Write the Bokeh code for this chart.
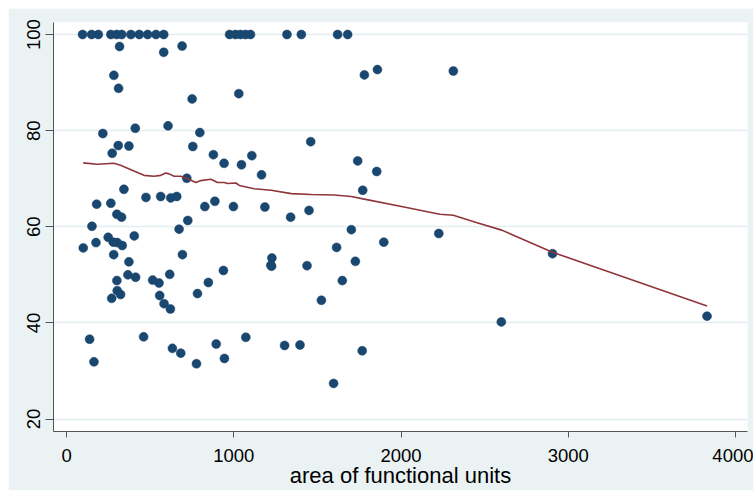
from bokeh.plotting import figure
from bokeh.models import Range1d, FixedTicker
from bokeh.embed import file_html
from bokeh.resources import INLINE

# ---- data ----
top_area = [96, 150, 190, 265, 300, 330, 385, 435, 485, 535, 581,
            975, 1010, 1040, 1070, 1100, 1318, 1404, 1621, 1681]
top_pct = [100] * len(top_area)

area = [317, 581, 691, 283, 311, 751, 1030, 1781, 1859, 2313,
        217, 411, 607, 797, 309, 373, 273, 755, 878, 942,
        1046, 1108, 1166, 719, 343, 180, 265, 475, 563, 623,
        659, 301, 329, 827, 887, 998, 1186, 152, 673, 725,
        100, 176, 249, 279, 303, 333, 405, 282, 373, 693,
        938, 367, 413, 301, 303, 323, 270, 515, 553, 617,
        557, 583, 621, 783, 848, 1222, 138, 164, 461, 633,
        683, 777, 895, 944, 1072, 1460, 1741, 1855, 1771, 1340,
        1450, 1703, 2226, 1615, 1897, 1228, 1226, 1438, 1727, 1649,
        1524, 1304, 1396, 1768, 1597, 2906, 2600, 3830]
pct = [97.5, 96.3, 97.6, 91.5, 88.8, 86.6, 87.7, 91.6, 92.7, 92.4,
       79.4, 80.5, 81.0, 79.6, 76.9, 76.8, 75.3, 76.7, 75.0, 73.2,
       72.9, 74.8, 70.8, 70.1, 67.8, 64.7, 64.9, 66.1, 66.3, 66.0,
       66.3, 62.6, 62.0, 64.2, 65.3, 64.2, 64.1, 60.1, 59.5, 61.3,
       55.6, 56.7, 57.8, 56.8, 56.7, 56.1, 58.1, 54.2, 52.7, 54.2,
       50.9, 50.0, 49.5, 48.8, 46.7, 45.9, 45.1, 48.9, 48.3, 50.1,
       45.7, 44.0, 42.9, 46.1, 48.4, 52.0, 36.6, 31.9, 37.1, 34.7,
       33.7, 31.5, 35.6, 32.6, 37.0, 77.7, 73.7, 71.5, 67.6, 62.0,
       63.4, 59.4, 58.6, 55.7, 56.8, 53.5, 51.8, 51.9, 52.8, 48.8,
       44.7, 35.3, 35.4, 34.2, 27.4, 54.4, 40.2, 41.4]

lowess_area = [100, 183, 283, 323, 403, 463, 523, 563, 593, 613,
               643, 683, 723, 773, 803, 863, 903, 943, 963, 1013,
               1033, 1122, 1223, 1344, 1464, 1600, 1703, 1773, 2003,
               2232, 2313, 2450, 2602, 2906, 3830]
lowess_pct = [73.3, 73.0, 73.2, 72.8, 71.6, 70.7, 70.5, 70.7, 71.2, 71.0,
              70.5, 70.5, 70.0, 69.2, 69.6, 69.9, 69.2, 69.2, 69.0, 69.1,
              68.6, 67.9, 67.6, 66.9, 66.7, 66.6, 66.3, 65.8, 64.2,
              62.6, 62.4, 60.9, 59.3, 54.7, 43.5]

x_ticks = [0, 1000, 2000, 3000, 4000]
y_ticks = [20, 40, 60, 80, 100]
x_title = "area of functional units"

BG = "#EAF2F3"
NAVY = "#1A476F"
MAROON = "#90353B"
FONT = "Liberation Sans"

p = figure(width=745, height=482, output_backend="svg", toolbar_location=None,
           x_range=Range1d(-78, 4072), y_range=Range1d(17.4, 102.5),
           min_border_left=45, min_border_right=6, min_border_top=14,
           min_border_bottom=58)
p.margin = (8, 0, 0, 8)
p.border_fill_color = BG
p.background_fill_color = "white"
p.outline_line_color = None

p.xgrid.visible = False
p.ygrid.ticker = FixedTicker(ticks=y_ticks)
p.ygrid.grid_line_color = "#E4EDEF"
p.ygrid.grid_line_width = 1.5

p.xaxis.ticker = FixedTicker(ticks=x_ticks)
p.yaxis.ticker = FixedTicker(ticks=y_ticks)
for ax in (p.xaxis[0], p.yaxis[0]):
    ax.axis_line_color = "#555555"
    ax.axis_line_width = 1
    ax.major_tick_line_color = "#555555"
    ax.major_tick_in = 0
    ax.minor_tick_line_color = None
    ax.major_label_text_font = FONT
    ax.major_label_text_font_size = "18.5px"
    ax.major_label_text_color = "black"

p.xaxis.major_tick_out = 6
p.xaxis.major_label_standoff = 11
p.xaxis.axis_label = x_title
p.xaxis.axis_label_text_font = FONT
p.xaxis.axis_label_text_font_size = "22px"
p.xaxis.axis_label_text_font_style = "normal"
p.xaxis.axis_label_text_color = "black"
p.xaxis.axis_label_standoff = -2
p.yaxis.major_tick_out = 8
p.yaxis.major_label_standoff = 5
p.yaxis.major_label_orientation = "vertical"

p.scatter(top_area, top_pct, size=9, fill_color=NAVY, line_color=NAVY, line_width=0.5)
p.scatter(area, pct, size=9, fill_color=NAVY, line_color=NAVY, line_width=0.5)
p.line(lowess_area, lowess_pct, line_color=MAROON, line_width=1.6)

open("out.html", "w").write(file_html(p, INLINE))
